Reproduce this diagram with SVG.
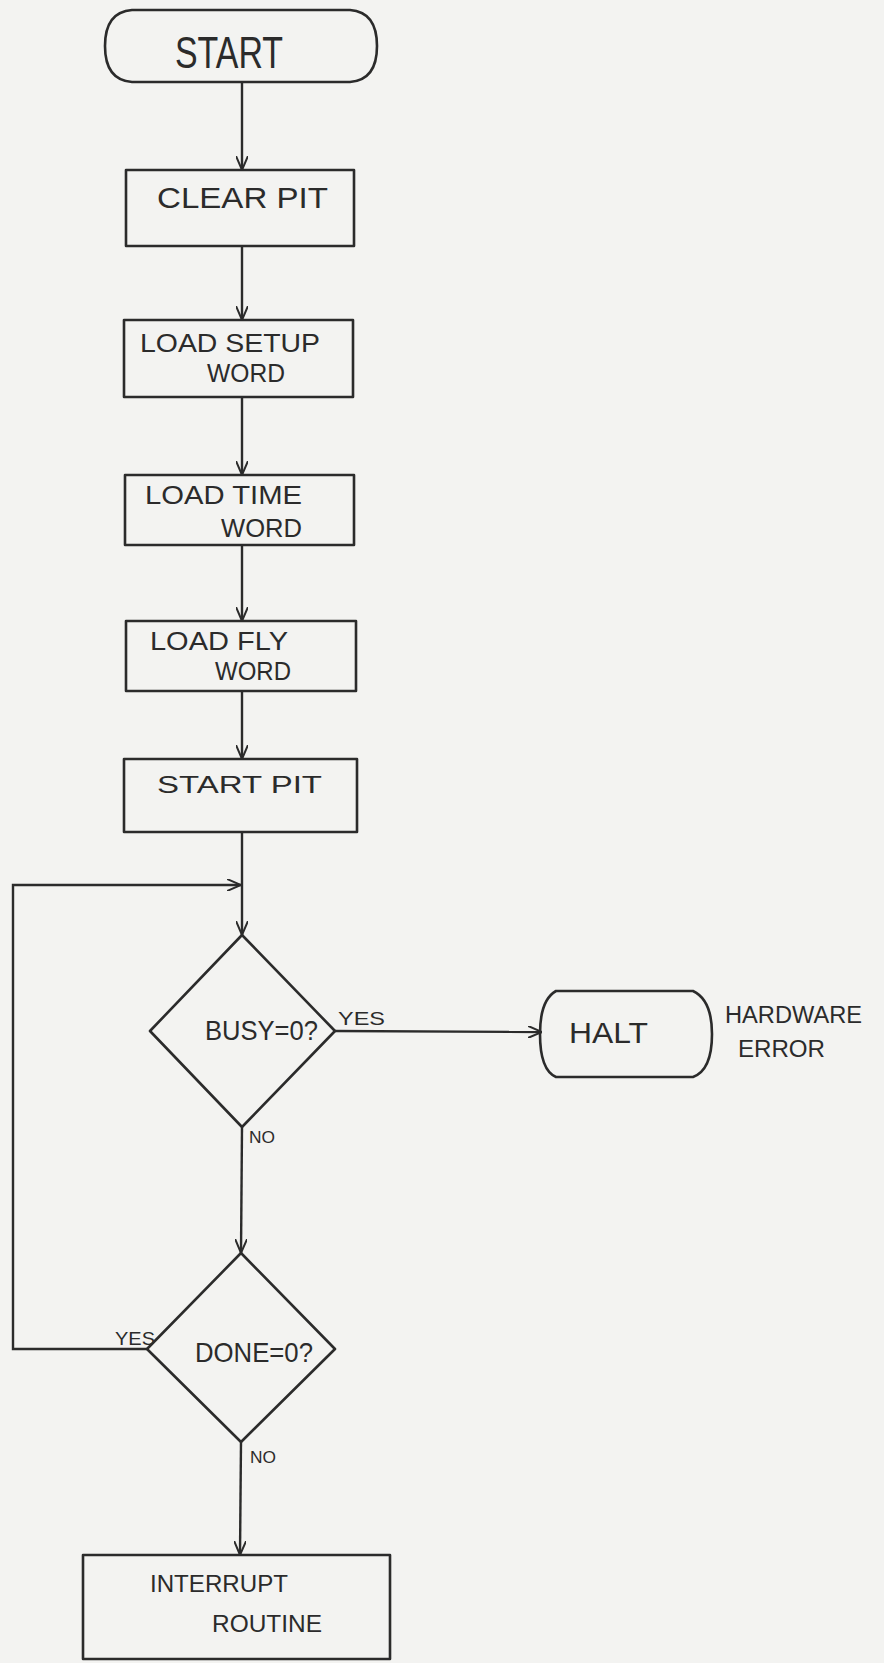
<svg xmlns="http://www.w3.org/2000/svg" width="884" height="1663" viewBox="0 0 884 1663">
<defs>
<style>
.shape{fill:none;stroke:#2b2b2b;stroke-width:2.6;stroke-linejoin:round}
.conn{fill:none;stroke:#2b2b2b;stroke-width:2.4}
text{font-family:"Liberation Sans","DejaVu Sans",sans-serif;fill:#2b2b2b}
.t30{font-size:30px}
.t25{font-size:25px}
.t23{font-size:23px}
.t28{font-size:28px}
.t19{font-size:19px}
.t17{font-size:17px}
</style>
<marker id="arr" viewBox="0 0 14 12" refX="14" refY="6" markerWidth="14" markerHeight="12" markerUnits="userSpaceOnUse" orient="auto">
<path d="M0,0 L14,6 L0,12" fill="none" stroke="#2b2b2b" stroke-width="2"/>
</marker>
</defs>
<rect x="0" y="0" width="884" height="1663" fill="#f3f3f1"/>

<g id="connectors">
<line class="conn" x1="242" y1="82" x2="242" y2="170" marker-end="url(#arr)"/>
<line class="conn" x1="242" y1="246" x2="242" y2="320" marker-end="url(#arr)"/>
<line class="conn" x1="242" y1="397" x2="242" y2="475" marker-end="url(#arr)"/>
<line class="conn" x1="242" y1="545" x2="242" y2="621" marker-end="url(#arr)"/>
<line class="conn" x1="242" y1="691" x2="242" y2="759" marker-end="url(#arr)"/>
<line class="conn" x1="242" y1="832" x2="242" y2="935" marker-end="url(#arr)"/>
<polyline class="conn" points="147,1349 13,1349 13,885 241,885" marker-end="url(#arr)"/>
<line class="conn" x1="335" y1="1031" x2="542" y2="1032" marker-end="url(#arr)"/>
<line class="conn" x1="242" y1="1127" x2="241" y2="1253" marker-end="url(#arr)"/>
<line class="conn" x1="241" y1="1442" x2="240" y2="1555" marker-end="url(#arr)"/>
<text class="t19" x="338" y="1025" textLength="47" lengthAdjust="spacingAndGlyphs">YES</text>
<text class="t17" x="249" y="1143" textLength="26" lengthAdjust="spacingAndGlyphs">NO</text>
<text class="t19" x="115" y="1345" textLength="40" lengthAdjust="spacingAndGlyphs">YES</text>
<text class="t17" x="250" y="1463" textLength="26" lengthAdjust="spacingAndGlyphs">NO</text>
</g>

<g id="start">
<path class="shape" d="M132,10 H350 Q377,12 377,46 Q377,80 350,82 H132 Q105,80 105,46 Q105,12 132,10 Z"/>
<text x="175" y="68" style="font-size:44px" textLength="108" lengthAdjust="spacingAndGlyphs">START</text>
</g>

<g id="clear-pit">
<rect class="shape" x="126" y="170" width="228" height="76"/>
<text class="t30" x="157" y="208" textLength="171" lengthAdjust="spacingAndGlyphs">CLEAR PIT</text>
</g>

<g id="load-setup">
<rect class="shape" x="124" y="320" width="229" height="77"/>
<text class="t25" x="140" y="352" textLength="180" lengthAdjust="spacingAndGlyphs">LOAD SETUP</text>
<text class="t25" x="207" y="382" textLength="78" lengthAdjust="spacingAndGlyphs">WORD</text>
</g>

<g id="load-time">
<rect class="shape" x="125" y="475" width="229" height="70"/>
<text class="t25" x="145" y="504" textLength="157" lengthAdjust="spacingAndGlyphs">LOAD TIME</text>
<text class="t25" x="221" y="537" textLength="81" lengthAdjust="spacingAndGlyphs">WORD</text>
</g>

<g id="load-fly">
<rect class="shape" x="126" y="621" width="230" height="70"/>
<text class="t25" x="150" y="650" textLength="138" lengthAdjust="spacingAndGlyphs">LOAD FLY</text>
<text class="t25" x="215" y="680" textLength="76" lengthAdjust="spacingAndGlyphs">WORD</text>
</g>

<g id="start-pit">
<rect class="shape" x="124" y="759" width="233" height="73"/>
<text class="t23" x="157" y="793" textLength="165" lengthAdjust="spacingAndGlyphs">START PIT</text>
</g>

<g id="busy">
<polygon class="shape" points="242,935 335,1031 242,1127 150,1031"/>
<text class="t28" x="205" y="1040" textLength="113" lengthAdjust="spacingAndGlyphs">BUSY=0?</text>
</g>

<g id="halt">
<path class="shape" d="M556,991 H693 Q712,1000 712,1034 Q712,1070 693,1077 H556 Q540,1070 540,1034 Q540,1000 556,991 Z"/>
<text class="t30" x="569" y="1043" textLength="79" lengthAdjust="spacingAndGlyphs">HALT</text>
</g>

<g id="hardware-error">
<text x="725" y="1023" style="font-size:23px" textLength="137" lengthAdjust="spacingAndGlyphs">HARDWARE</text>
<text x="738" y="1057" style="font-size:23px" textLength="87" lengthAdjust="spacingAndGlyphs">ERROR</text>
</g>

<g id="done">
<polygon class="shape" points="241,1253 335,1349 241,1442 147,1349"/>
<text class="t28" x="195" y="1362" textLength="118" lengthAdjust="spacingAndGlyphs">DONE=0?</text>
</g>

<g id="interrupt">
<rect class="shape" x="83" y="1555" width="307" height="104"/>
<text x="150" y="1592" style="font-size:24px" textLength="138" lengthAdjust="spacingAndGlyphs">INTERRUPT</text>
<text x="212" y="1632" style="font-size:24px" textLength="110" lengthAdjust="spacingAndGlyphs">ROUTINE</text>
</g>
</svg>
